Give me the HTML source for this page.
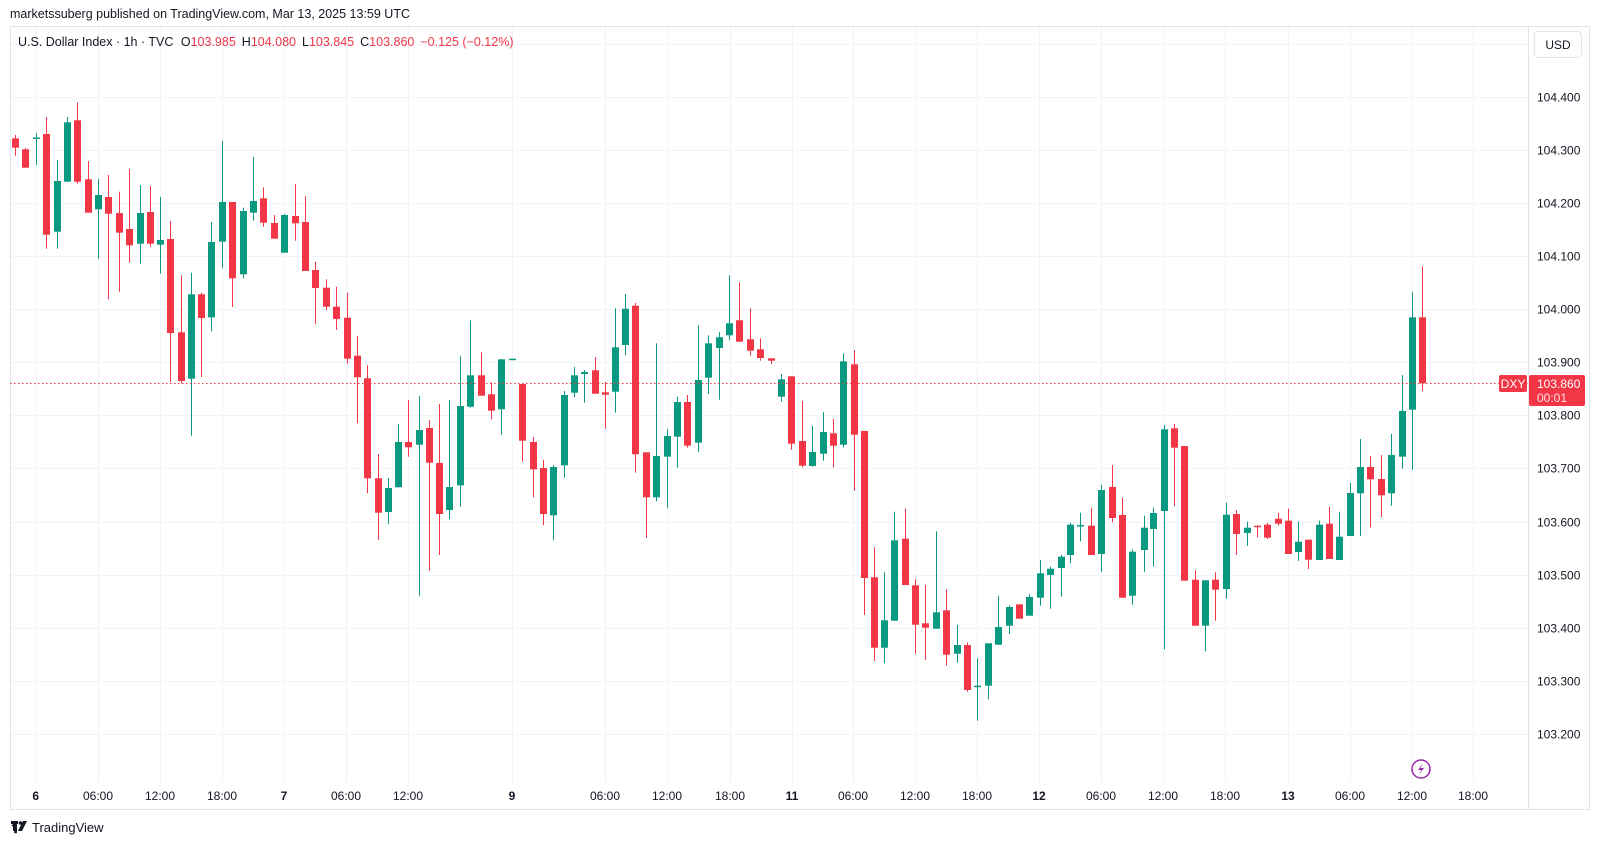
<!DOCTYPE html>
<html><head><meta charset="utf-8"><style>
body{margin:0;width:1600px;height:845px;background:#fff;overflow:hidden;font-family:"Liberation Sans","DejaVu Sans",sans-serif;}
svg{position:absolute;left:0;top:0}
</style></head><body>
<svg width="1600" height="845" xmlns="http://www.w3.org/2000/svg" id="s">
<rect width="1600" height="845" fill="#fff"/>
<g id="grid" stroke="#f0f3fa" stroke-width="1"></g>
<rect x="10.5" y="26.5" width="1579" height="783" fill="none" stroke="#e0e3eb"/>
<line x1="1528.5" y1="27" x2="1528.5" y2="809" stroke="#e0e3eb"/>
<g id="c"></g>
<line x1="10" y1="383.5" x2="1528" y2="383.5" stroke="#f23645" stroke-dasharray="1.5,2.5"/>
<text x="10" y="18" font-size="12.5" fill="#131722">marketssuberg published on TradingView.com, Mar 13, 2025 13:59 UTC</text>
<text x="18" y="46" font-size="12.5" fill="#131722">U.S. Dollar Index · 1h · TVC <tspan dx="4">O</tspan><tspan fill="#f23645">103.985</tspan><tspan dx="6">H</tspan><tspan fill="#f23645">104.080</tspan><tspan dx="6">L</tspan><tspan fill="#f23645">103.845</tspan><tspan dx="6">C</tspan><tspan fill="#f23645">103.860</tspan><tspan dx="6" fill="#f23645">−0.125 (−0.12%)</tspan></text>
<rect x="1534.5" y="31.5" width="47" height="26" rx="4" fill="#fff" stroke="#e0e3eb"/>
<text x="1558" y="49" font-size="12" fill="#131722" text-anchor="middle">USD</text>
<g id="pl" font-size="12" fill="#131722"></g>
<rect x="1499" y="375" width="28" height="17" rx="2" fill="#f23645"/>
<text x="1513" y="388" font-size="12" fill="#fff" text-anchor="middle">DXY</text>
<rect x="1529" y="375" width="56" height="31" rx="2" fill="#f23645"/>
<text x="1537" y="388" font-size="12" fill="#fff">103.860</text>
<text x="1537" y="402" font-size="12" fill="#fde0e3">00:01</text>
<g id="tl" font-size="12" fill="#131722" text-anchor="middle"></g>
<circle cx="1421" cy="769" r="9" fill="none" stroke="#9c27b0" stroke-width="1.5"/>
<path d="M1423 763 L1418 770 L1421.5 770 L1419 775 L1424 768 L1420.5 768 Z" fill="#9c27b0"/>
<text x="11" y="833" font-size="15" font-weight="bold" fill="#131722">𝟏</text>
<rect x="11" y="821" width="7" height="3" fill="#131722"/><rect x="13" y="821" width="3" height="10" fill="#131722"/><circle cx="20.5" cy="823" r="1.8" fill="#131722"/><path d="M23 821 L27 821 L22 831 L18 831 Z" fill="#131722"/>
<text x="32" y="832" font-size="13" fill="#131722">TradingView</text>
</svg>
<script>
var ns="http://www.w3.org/2000/svg";
function el(p,t,a,txt){var e=document.createElementNS(ns,t);for(var k in a)e.setAttribute(k,a[k]);if(txt!=null)e.textContent=txt;p.appendChild(e);return e;}
var g=document.getElementById('grid');
var prices=["104.400","104.300","104.200","104.100","104.000","103.900","103.800","103.700","103.600","103.500","103.400","103.300","103.200"];
var pl=document.getElementById('pl');
el(g,'line',{x1:10,y1:44.5,x2:1528,y2:44.5});
prices.forEach(function(p,i){var y=Math.round(97+i*53.07)+0.5;el(g,'line',{x1:10,y1:y,x2:1528,y2:y});el(pl,'text',{x:1537,y:y+4},p);});
var tx=[[35.7,"6",1],[98,"06:00"],[160,"12:00"],[222,"18:00"],[284,"7",1],[346,"06:00"],[408,"12:00"],[512,"9",1],[605,"06:00"],[667,"12:00"],[730,"18:00"],[792,"11",1],[853,"06:00"],[915,"12:00"],[977,"18:00"],[1039,"12",1],[1101,"06:00"],[1163,"12:00"],[1225,"18:00"],[1288,"13",1],[1350,"06:00"],[1412,"12:00"],[1473,"18:00"]];
var tl=document.getElementById('tl');
tx.forEach(function(t){var x=Math.round(t[0])+0.5;el(g,'line',{x1:x,y1:27,x2:x,y2:782});var e=el(tl,'text',{x:t[0],y:800},t[1]);if(t[2])e.setAttribute('font-weight','bold');});
var d=`15.3 r 138.3 147.7 135 155.7
25.3 r 149.3 167.7 148 167.7
36.3 g 137.5 139 133 165
46.3 r 134 234.7 117 248.7
57.3 g 181 231.7 160 248.7
67.3 g 122.3 181.7 117 181.7
77.3 r 120.3 181.7 102.3 183.7
88 r 179.3 212.7 161 212.7
98 g 195 209.3 179 258.7
108 r 197 213.7 175 299.3
118.7 r 213 232.7 191.7 291.7
129 r 229 245.3 169 262.7
139.7 g 213 243.7 185 263.7
149.7 r 212 243.7 186 246.7
159.7 g 240 244.7 197 273.7
170.3 r 239 333 221 382
180.7 r 332.3 381 275.3 383.3
191.3 g 294.3 378.7 272.7 435.7
201.3 r 294.3 318 292.7 377
211.3 g 242 317.3 222 331.3
222.3 g 202 241.7 141 267.7
232.3 r 202 278.3 202 307
243.3 g 211 274.3 207.7 278.3
253.3 g 201 212.7 157 220.7
263.3 r 198.3 222.7 187.3 226.7
274 r 223 238.7 215 238.7
284.3 g 215 252.7 214 252.7
295 r 216 223.3 184 240.7
305 r 222 271 196 271
315 r 270 288 261.7 324
326 r 287.7 306.7 279.3 310
336 r 306.7 319 286.7 330
346.7 r 317.7 358.7 292.7 363.7
356.7 r 355.7 377.3 336.3 423.3
366.7 r 378.3 478.3 365.3 493.3
377.7 r 478.3 512.7 454 540
387.7 g 488 512 478 524
397.7 g 442 487.3 424 487.3
408.3 r 442 447.3 400 456.7
418.7 g 430 444.7 396 595.7
429.3 r 428 462.7 420 570.7
439.3 r 463 514 404 555
449.3 g 487 510 400 519.3
460.3 g 406 485.3 356.3 506.7
470.3 g 375.3 406.7 320.3 407.7
481.3 r 375.3 395.7 352.3 395.7
491.3 r 394.3 410.7 382.3 419.3
501.3 g 359.3 409.3 359.3 434.7
512.3 g 358.7 360 358.7 360
522 r 384 440.7 384 461.7
533 r 442 469.3 437 497.3
543 r 468 514 460 525.3
553 g 467 515.3 465 540
563.7 g 395 465.3 391 477.7
573.7 g 375.3 392.7 367 397.3
584.3 g 372 374 370 402.7
594.7 r 370.3 393.7 357 393.7
604.7 r 392.3 394.7 382 428.7
615.3 g 347.3 391.7 308.3 412.7
625.3 g 308.7 345 294 355
635.3 r 305.7 454.3 303 472.7
646 r 452.3 497.3 452.3 538
656.3 g 456 497.3 343.3 501.3
667.3 g 436 456.7 429 507.7
677.3 g 402 436.7 396.7 467.7
687.3 r 402 445.7 395 447.7
698.3 g 380 442.7 325.3 452
708.3 g 343.3 377.7 335.3 394
719 g 337.3 348 332 399.7
729.3 g 323.3 335.3 275.3 340
739.3 r 320.3 341.7 282.3 341.7
749.7 r 339.3 350.7 308.3 355.7
760 r 349.3 358 338.3 360.7
770.7 r 358.3 360.7 358.3 364
780.7 g 379.3 396.7 374 401.7
790.7 r 376.3 443.7 376.3 449.7
801.7 r 441 465.7 401 467.3
811.7 g 452 466 426 466.7
822.7 g 432 453.7 412 460.7
832.7 r 433.3 445.7 419 467.3
842.7 g 361.3 444.7 353.3 447.3
853.7 r 364.3 434.7 350 490.7
863.7 r 431 578 431 615
874.3 r 577.3 647.7 547.3 661
884.3 g 620.3 647.7 572.3 663.3
894.3 g 540.3 620.7 511.7 620.7
905.3 r 538.7 585 508.7 585
915.3 r 585.3 624.7 579.3 653.7
925.3 r 623.3 627.7 585 660
936.3 g 612.3 628.7 531.3 628.7
946.3 r 610.3 654.7 589.3 665.7
957.3 g 645 653.7 625 662.7
967 r 645 690 642.3 691.7
977.3 g 685.7 687 658.3 720.7
987.7 g 643.3 685.7 643.3 699.3
998 g 627 644.7 596 644.7
1009 g 607 625.7 605.3 634
1019 r 604.3 618.7 604.3 618.7
1029 g 597 615.7 594 615.7
1040 g 573.3 597.7 560 605.7
1049.7 g 568.7 575 566.7 608.7
1060.7 g 556.7 568 554.7 596.7
1070.3 g 524.7 555 522.7 563
1080.3 g 525 526.5 512.7 541.3
1091.3 r 525.7 555 507.7 555
1101.3 g 490 554 484.7 572
1112.3 r 487 518 465 522.3
1122.3 r 515 597.7 497.7 597.7
1132.3 g 551.7 595.7 549.3 604.7
1143.7 g 527.7 550 515.7 572
1153.3 g 513 529 507.7 566.7
1164.3 g 429.3 511 425 649.3
1174.3 r 428.3 447.7 424 506.3
1184.3 r 446 580.7 446 580.7
1195 r 579.7 625.7 570.3 625.7
1205 g 580.3 625.7 580.3 651.3
1215 r 579.7 589.7 572.3 620.7
1226 g 514.7 589 502.7 598.7
1236 r 514 534 510.3 555
1246.7 g 527.7 533 521.7 546
1256.7 r 525.7 527 525.7 537.3
1266.7 r 524.7 537.7 523 539
1277.7 r 518.7 523.7 512.7 525.7
1287.7 r 520.7 554 508.7 554
1298.3 g 541.7 552 521.7 561
1308.3 r 539.7 559.7 539.7 569
1318.7 g 524.7 560 520.7 560
1329.3 r 523.7 559 506.7 559
1339.3 g 536.7 560 511.7 560
1350 g 493 536 482.7 536
1360.3 g 467 493.3 439 536
1370.3 r 467 479.3 456 527.3
1381.3 r 479 495.3 455 517.3
1391.3 g 455 493.3 434 505.7
1402.3 g 411 456.7 375 468.7
1412.3 g 317.3 409.7 292.3 469.7
1422.3 r 317.3 383.3 266.3 391`;
var cg=document.getElementById('c');
d.split('\n').forEach(function(l){var a=l.trim().split(/\s+/);var x=+a[0],col=a[1]=='g'?'#089981':'#f23645',t=+a[2],b=+a[3],h=+a[4],lo=+a[5];
var cx=Math.round(x);
el(cg,'rect',{x:cx,y:h,width:1,height:Math.max(1,lo-h),fill:col});
el(cg,'rect',{x:cx-3,y:t,width:7,height:Math.max(1.5,b-t),fill:col});});
</script>
</body></html>
